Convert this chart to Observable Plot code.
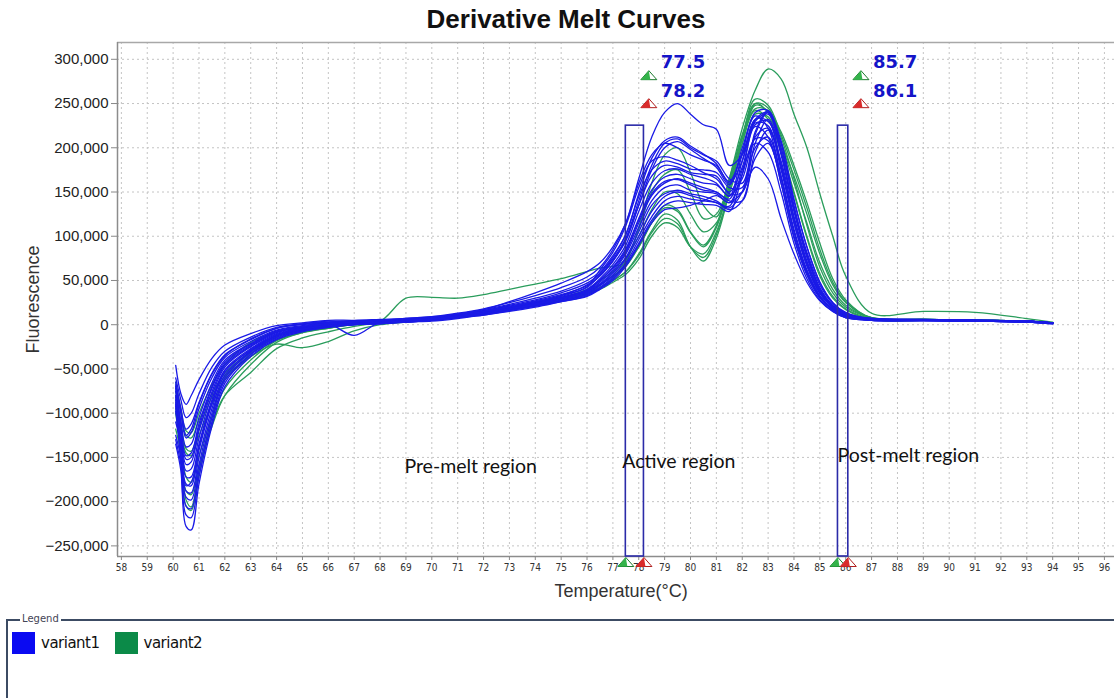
<!DOCTYPE html>
<html>
<head>
<meta charset="utf-8">
<script src="https://cdn.jsdelivr.net/npm/d3@7"></script>
<script src="https://cdn.jsdelivr.net/npm/@observablehq/plot@0.6"></script>
<style>
  html, body { margin: 0; padding: 0; background: #fff; overflow: hidden; }
  #page { position: relative; width: 1114px; height: 698px; overflow: hidden; }
  #title { position: absolute; left: 0; top: 4px; width: 1114px; padding-left: 18px; box-sizing: border-box;
           text-align: center; font: bold 26px "Liberation Sans", Arial, sans-serif; color: #111; }
  #chart { position: absolute; left: 0; top: 36px; }
  #legend { position: absolute; left: 6px; top: 619px; width: 1130px; height: 100px;
            border-top: 2px solid #3c4b63; border-left: 2px solid #3c4b63; }
  #legend-title { position: absolute; left: 12px; top: -8px; padding: 0 2px; background: #fff;
                  font: 10px "DejaVu Sans", sans-serif; color: #445; }
  #legend-items { position: absolute; left: 4px; top: 11px; display: flex; align-items: center; }
  .item { display: flex; align-items: center; margin-right: 15px; }
  .swatch { width: 23px; height: 22px; margin-right: 6px; }
  .item span { font: 15px "DejaVu Sans", sans-serif; letter-spacing: -0.5px; color: #111; }
</style>
</head>
<body>
<div id="page">
  <div id="title">Derivative Melt Curves</div>
  <div id="chart"></div>
  <div id="legend"><span id="legend-title">Legend</span><div id="legend-items"></div></div>
</div>
<script>
// Temperature grid (°C) shared by every well's derivative curve
const temps = [60.1, 60.3, 60.5, 60.7, 61, 61.5, 62,
  63, 64, 65, 66, 67, 68, 69, 70, 71, 72, 73, 74, 75, 76,
  76.5, 77, 77.5, 78, 78.5, 79, 79.5, 80, 80.5, 81, 81.5, 82, 82.5, 83, 83.5, 84, 84.5, 85, 85.5, 86,
  87, 89, 91, 93, 94];

// -dF/dT per well, in thousands of fluorescence units
const variant1Curves = [
  [-46,-78,-90,-80,-62,-38,-23, -10,-1,2,5,5,6,7,9,13,18,25,33,42,54, 65,85,115,165,212,240,250,238,226,221,180,192,228,225,175,115,68,36,20,12, 7,5,5,4,2],
  [-60,-85,-105,-100,-78,-48,-30, -14,-3,1,4,4,5,7,9,12,17,23,30,38,50, 60,78,102,148,188,208,212,202,193,182,160,185,232,240,200,140,88,48,25,14, 6,5,4,4,2],
  [-65,-95,-118,-112,-88,-55,-34, -17,-4,0,3,4,5,6,8,12,16,22,28,36,47, 58,74,98,140,180,205,210,200,192,185,165,160,218,242,205,135,80,42,22,12, 6,5,5,3,1],
  [-70,-100,-128,-122,-95,-60,-37, -19,-6,-1,2,3,4,6,8,11,16,21,27,34,44, 55,72,95,135,175,200,207,198,188,178,158,200,236,222,168,105,60,32,18,10, 7,6,5,4,2],
  [-75,-110,-138,-135,-105,-66,-40, -21,-7,-2,2,3,4,5,7,11,15,20,26,33,43, 62,82,112,155,185,190,186,180,172,165,150,178,226,230,180,120,70,37,20,11, 6,5,4,3,2],
  [-72,-112,-148,-145,-112,-70,-42, -22,-8,-3,1,-12,3,5,7,10,15,20,25,32,42, 56,72,96,135,168,180,178,172,170,168,148,150,205,232,195,130,78,40,21,11, 6,5,5,4,2],
  [-80,-120,-158,-155,-120,-76,-46, -24,-9,-3,1,2,3,5,7,10,14,19,25,31,40, 52,68,90,128,160,174,176,170,166,160,145,192,224,212,160,98,56,30,17,10, 5,5,4,3,2],
  [-85,-125,-165,-163,-128,-80,-48, -25,-10,-4,0,2,3,4,6,10,14,19,24,30,39, 50,65,86,120,152,167,170,165,160,158,146,165,212,222,178,115,66,35,19,10, 6,5,5,4,2],
  [-110,-135,-172,-172,-135,-85,-51, -27,-11,-4,0,1,3,4,6,9,13,18,24,30,38, 48,62,82,115,146,160,165,160,155,150,140,140,195,220,185,122,72,38,20,10, 6,5,4,4,2],
  [-88,-135,-180,-182,-142,-90,-54, -28,-12,-5,-1,1,2,4,6,9,13,18,23,29,37, 46,60,80,110,140,155,158,152,150,148,138,170,210,208,160,100,58,31,17,9, 5,5,4,3,2],
  [-90,-140,-188,-190,-150,-95,-57, -30,-13,-5,-1,1,2,4,5,9,12,17,22,28,36, 45,58,76,105,135,148,152,148,145,140,132,150,200,212,168,108,62,33,17,9, 6,5,5,4,2],
  [-125,-150,-195,-198,-158,-100,-60, -31,-14,-6,-2,0,2,3,5,8,12,17,22,27,35, 44,56,74,100,128,145,150,146,142,138,134,175,205,195,150,92,52,28,15,8, 6,5,4,3,1],
  [-130,-158,-205,-208,-165,-105,-63, -33,-15,-7,-2,0,2,3,5,8,12,16,21,27,34, 42,54,70,96,122,140,145,142,140,138,130,140,188,205,165,105,60,32,16,8, 5,5,4,3,2],
  [-92,-155,-215,-218,-172,-110,-66, -34,-16,-7,-3,0,1,3,5,8,11,16,21,26,33, 41,52,68,92,118,135,140,138,136,135,128,170,230,238,192,128,76,40,21,11, 6,5,5,4,2],
  [-135,-165,-228,-232,-180,-115,-70, -36,-17,-8,-3,0,1,3,4,7,11,15,20,26,32, 40,50,66,90,115,130,132,135,140,146,138,150,178,165,120,80,48,27,15,8, 5,4,4,3,2],
  [-68,-98,-125,-118,-90,-56,-35, -16,-4,1,3,4,5,6,8,12,17,26,36,47,60, 70,88,115,160,192,205,200,192,186,180,162,195,240,242,195,132,82,45,24,13, 7,6,5,4,2],
  [-82,-118,-152,-150,-116,-72,-44, -23,-8,-2,1,3,4,5,7,10,15,20,26,33,45, 58,76,102,145,175,185,182,176,175,172,155,155,215,240,208,142,88,48,25,13, 6,5,4,4,2],
  [-98,-140,-182,-178,-138,-88,-52, -29,-12,-5,-1,1,3,4,6,9,13,18,23,30,38, 50,64,84,118,148,162,164,158,152,150,142,185,232,230,182,120,70,37,20,11, 6,5,5,3,2]
];

const variant2Curves = [
  [-70,-100,-125,-128,-108,-78,-55, -30,-12,-5,-1,2,3,5,7,10,14,19,25,31,40, 50,60,75,100,130,150,148,125,105,115,165,222,265,289,278,238,200,148,100,55, 13,15,14,7,3],
  [-80,-115,-145,-148,-125,-90,-62, -36,-17,-8,-3,1,3,5,6,9,12,17,22,27,34, 42,52,70,110,160,192,200,172,135,122,165,215,250,240,205,160,115,70,40,22, 8,6,5,4,2],
  [-85,-125,-172,-178,-148,-105,-72, -40,-18,-9,-4,0,2,4,6,9,13,17,22,28,35, 42,50,60,80,106,125,118,88,72,98,150,210,255,248,215,175,132,85,48,26, 8,6,5,4,2],
  [-118,-145,-198,-206,-165,-105,-60, -36,-22,-26,-19,-7,0,3,5,8,12,17,22,28,36, 42,50,60,78,104,120,114,88,76,102,152,205,248,240,200,150,100,58,32,18, 7,6,5,4,2],
  [-100,-145,-205,-210,-170,-112,-80, -54,-27,-15,-8,-2,2,4,6,9,13,18,23,29,37, 40,48,57,74,100,115,110,88,80,105,148,195,238,235,205,168,125,80,45,25, 7,5,5,4,2],
  [-65,-95,-120,-122,-100,-68,-45, -20,-8,-3,0,2,4,30,31,30,34,40,46,52,60, 64,66,70,88,115,135,130,105,90,112,158,212,250,245,212,165,112,65,36,20, 8,6,5,4,2],
  [-75,-110,-140,-143,-118,-82,-58, -32,-14,-6,-1,2,3,5,7,10,14,19,25,31,38, 46,55,66,88,115,132,128,104,88,110,156,205,244,242,218,180,138,92,52,28, 7,6,5,4,2],
  [-95,-135,-188,-192,-160,-115,-80, -45,-20,-9,-4,0,2,4,6,9,13,18,23,29,36, 45,56,72,108,150,170,175,150,120,125,162,212,242,232,195,148,98,55,30,17, 6,5,5,4,2]
];

const seriesNames = ["variant1", "variant2"];
const seriesLineColors = ["#1a1ae6", "#2a9d5c"];
const seriesSwatchColors = ["#0a0af2", "#0b8a48"];

// Axis ticks
const tempTicks = [58,59,60,61,62,63,64,65,66,67,68,69,70,71,72,73,74,75,76,77,78,79,80,81,82,83,84,85,86,87,88,89,90,91,92,93,94,95,96];
const fluorTicks = [-250000,-200000,-150000,-100000,-50000,0,50000,100000,150000,200000,250000,300000];
const xDomain = [57.85, 96.39];
const yDomain = [-262000, 319000];

// Melt region boundaries (°C) and their bar height
const regionBounds = [[77.5, 78.2], [85.7, 86.1]];
const boundLabels = [["77.5", "78.2"], ["85.7", "86.1"]];
const boundTop = 225000;

// Region captions
const regionNames = ["Pre-melt region", "Active region", "Post-melt region"];
const regionLabelTemp = [71.5, 79.55, 88.42];
const regionLabelLevel = [-160000, -155000, -148000];

// Long-format rows for the line marks
const rows = [];
[variant1Curves, variant2Curves].forEach((curves, s) =>
  curves.forEach((curve, i) =>
    curve.forEach((v, j) => rows.push({variant: seriesNames[s], well: `${seriesNames[s]}-${i}`, t: temps[j], f: v * 1000}))));

// Marker glyphs: outlined triangle with its left part filled
const triOutline = {draw(ctx) { ctx.moveTo(0, -5); ctx.lineTo(8, 4); ctx.lineTo(-8, 4); ctx.closePath(); }};
const triFill = {draw(ctx) { ctx.moveTo(0, -5); ctx.lineTo(1.5, 4); ctx.lineTo(-8, 4); ctx.closePath(); }};

const starts = regionBounds.map((b, i) => ({t: b[0], label: boundLabels[i][0], anchor: b[0]}));
const ends = regionBounds.map((b, i) => ({t: b[1], label: boundLabels[i][1], anchor: b[0]}));
const green = {fill: "#33b34a", stroke: "#1c7a2e"};
const red = {fill: "#d92b2b", stroke: "#b01e1e"};

function markerMarks(data, xKey, colors, dx, dy, yFn) {
  return [
    Plot.dot(data, {x: xKey, y: yFn, symbol: triOutline, r: 8, fill: "white", stroke: colors.stroke, strokeWidth: 1, dx, dy}),
    Plot.dot(data, {x: xKey, y: yFn, symbol: triFill, r: 8, fill: colors.fill, stroke: "none", dx, dy})
  ];
}

const chart = Plot.plot({
  width: 1114,
  height: 574,
  marginLeft: 117,
  marginRight: 0,
  marginTop: 6,
  marginBottom: 54,
  x: {domain: xDomain},
  y: {domain: yDomain},
  color: {domain: seriesNames, range: seriesLineColors},
  style: {fontFamily: "'Liberation Sans', Arial, sans-serif", color: "#222", background: "white", overflow: "visible"},
  marks: [
    Plot.gridX({ticks: tempTicks, stroke: "#c4c4c4", strokeOpacity: 1, strokeDasharray: "2,3"}),
    Plot.gridY({ticks: fluorTicks, stroke: "#c4c4c4", strokeOpacity: 1, strokeDasharray: "2,3"}),
    Plot.ruleY([yDomain[1]], {stroke: "#a8a8a8", strokeWidth: 1.5}),
    Plot.ruleX([xDomain[0]], {stroke: "#8c8c8c", strokeWidth: 1.5}),
    Plot.ruleY([yDomain[0]], {stroke: "#8c8c8c", strokeWidth: 1.5}),
    Plot.axisX({ticks: tempTicks, tickFormat: d => String(d), tickSize: 4, tickPadding: 3, fontSize: 10,
                fontFamily: "'DejaVu Sans Condensed', 'DejaVu Sans', sans-serif", stroke: "#888", fill: "#333", label: null}),
    Plot.axisY({ticks: fluorTicks, tickFormat: d3.format(","), tickSize: 6, tickPadding: 3, fontSize: 15,
                stroke: "#888", fill: "#222", label: null}),
    Plot.text(["Temperature(°C)"], {frameAnchor: "bottom", lineAnchor: "middle", textAnchor: "middle",
      dy: 35, dx: 5, fontSize: 18, fill: "#333"}),
    Plot.text(["Fluorescence"], {frameAnchor: "left", textAnchor: "middle", lineAnchor: "middle",
      rotate: -90, dx: -84, fontSize: 18, fill: "#333"}),
    Plot.line(rows.filter(d => d.variant === seriesNames[1]),
      {x: "t", y: "f", z: "well", stroke: "variant", strokeWidth: 1.3, curve: "catmull-rom", clip: true}),
    Plot.line(rows.filter(d => d.variant === seriesNames[0]),
      {x: "t", y: "f", z: "well", stroke: "variant", strokeWidth: 1.3, curve: "catmull-rom", clip: true}),
    Plot.rect(regionBounds, {x1: d => d[0], x2: d => d[1], y1: () => yDomain[0], y2: () => boundTop,
      fill: "none", stroke: "#2b2ba8", strokeWidth: 1.6}),
    Plot.text(regionNames, {x: (d, i) => regionLabelTemp[i], y: (d, i) => regionLabelLevel[i], text: d => d,
      fontSize: 19.5, fontFamily: "Lato, 'Open Sans', sans-serif", fill: "#111"}),
    // boundary markers sitting on the temperature axis
    ...markerMarks(starts, "t", green, 0, 6, () => yDomain[0]),
    ...markerMarks(ends, "t", red, 0, 6, () => yDomain[0]),
    // boundary markers and values above each region bar
    ...markerMarks(starts, "anchor", green, 23, -50, () => boundTop),
    ...markerMarks(ends, "anchor", red, 23, -22, () => boundTop),
    Plot.text(starts, {x: "anchor", y: () => boundTop, text: "label", dx: 35, dy: -63, textAnchor: "start",
      fontSize: 18, fontWeight: "bold", fontFamily: "'DejaVu Sans', Verdana, sans-serif", fill: "#1414c8"}),
    Plot.text(ends, {x: "anchor", y: () => boundTop, text: "label", dx: 35, dy: -34, textAnchor: "start",
      fontSize: 18, fontWeight: "bold", fontFamily: "'DejaVu Sans', Verdana, sans-serif", fill: "#1414c8"})
  ]
});
document.getElementById("chart").append(chart);

// Legend entries
const items = document.getElementById("legend-items");
seriesNames.forEach((name, i) => {
  const item = document.createElement("div");
  item.className = "item";
  const sw = document.createElement("div");
  sw.className = "swatch";
  sw.style.background = seriesSwatchColors[i];
  const label = document.createElement("span");
  label.textContent = name;
  item.append(sw, label);
  items.append(item);
});
</script>
</body>
</html>
